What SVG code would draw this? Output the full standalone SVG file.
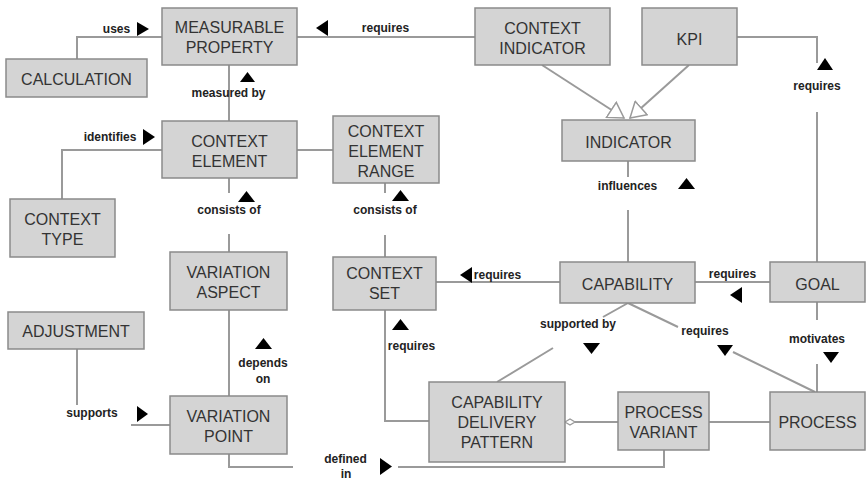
<svg xmlns="http://www.w3.org/2000/svg" width="866" height="482" viewBox="0 0 866 482">
<style>
.box{fill:#d4d4d4;stroke:#8a8a8a;stroke-width:1.5}
.t{font-family:"Liberation Sans",Arial,sans-serif;font-size:16px;fill:#333;text-anchor:middle}
.l{font-family:"Liberation Sans",Arial,sans-serif;font-size:12px;font-weight:bold;fill:#222;text-anchor:middle}
.c{fill:none;stroke:#9a9a9a;stroke-width:2}
.a{fill:#000}
</style>
<defs>
<marker id="gen" markerUnits="userSpaceOnUse" markerWidth="18" markerHeight="20" refX="15" refY="9" orient="auto" viewBox="-1 -1 18 20">
<path d="M0,0 L15,9 L0,18 z" fill="#fff" stroke="#9a9a9a" stroke-width="1.5"/>
</marker>
</defs>
<rect width="866" height="482" fill="#fff"/>
<g id="connectors">
<path class="c" d="M77,59 V37 H162"/>
<path class="c" d="M297,37 H475"/>
<path class="c" d="M229,65 V121"/>
<path class="c" d="M162,150 H62 V199"/>
<path class="c" d="M297,150 H333"/>
<path class="c" d="M229,178 V193 M229,234 V252"/>
<path class="c" d="M385,183 V193 M385,235 V257"/>
<path class="c" d="M628,161 V177 M628,210 V262"/>
<path class="c" d="M542,65 L624,118" marker-end="url(#gen)"/>
<path class="c" d="M689,65 L630,118" marker-end="url(#gen)"/>
<path class="c" d="M737,37 H817 V63 M817,112 V262"/>
<path class="c" d="M436,282 H560"/>
<path class="c" d="M695,282 H770"/>
<path class="c" d="M817,302 V320 M817,364 V392"/>
<path class="c" d="M628,303 L678,327 M733,352 L815,392"/>
<path class="c" d="M628,303 L603,317 M553,348 L497,382"/>
<path class="c" d="M385,310 V421 H429"/>
<path class="c" d="M575,422 H618"/>
<path d="M565,422 L570,419 L575,422 L570,425 z" fill="#fff" stroke="#9a9a9a" stroke-width="1.3"/>
<path class="c" d="M709,422 H770"/>
<path class="c" d="M229,310 V396"/>
<path class="c" d="M77,349 V405 M131,425 H170"/>
<path class="c" d="M229,454 V467 H293 M398,467 H664 V450"/>
<polygon class="a" points="137,22 149,29 137,36"/>
<polygon class="a" points="328,20 316,28 328,36"/>
<polygon class="a" points="240,82 247.5,72 255,82"/>
<polygon class="a" points="143,129 155,137 143,145"/>
<polygon class="a" points="238,202 246.5,191 255,202"/>
<polygon class="a" points="392,201 400.5,190 409,201"/>
<polygon class="a" points="678,189 686.5,178 695,189"/>
<polygon class="a" points="817,70 825,58 833,70"/>
<polygon class="a" points="472,267 460,275 472,283"/>
<polygon class="a" points="742,287 730,295 742,303"/>
<polygon class="a" points="583,343 600,343 591.5,354"/>
<polygon class="a" points="717,345 733,345 725,356"/>
<polygon class="a" points="823,352 839,352 831,363"/>
<polygon class="a" points="392,330 400.5,319 409,330"/>
<polygon class="a" points="255,349 263.5,338 272,349"/>
<polygon class="a" points="137,406 148,414 137,422"/>
<polygon class="a" points="380,458 392,466.5 380,475"/>
<text class="l" x="116.5" y="33">uses</text>
<text class="l" x="385.5" y="32">requires</text>
<text class="l" x="228.5" y="97">measured by</text>
<text class="l" x="110" y="141">identifies</text>
<text class="l" x="229" y="214">consists of</text>
<text class="l" x="385" y="214">consists of</text>
<text class="l" x="627.5" y="190">influences</text>
<text class="l" x="817" y="90">requires</text>
<text class="l" x="497.5" y="279">requires</text>
<text class="l" x="732.5" y="278">requires</text>
<text class="l" x="578" y="328">supported by</text>
<text class="l" x="705" y="335">requires</text>
<text class="l" x="817" y="343">motivates</text>
<text class="l" x="411.5" y="350">requires</text>
<text class="l" x="263" y="367">depends</text>
<text class="l" x="263" y="383">on</text>
<text class="l" x="92" y="417">supports</text>
<text class="l" x="345.5" y="463">defined</text>
<text class="l" x="346" y="478">in</text>
</g>
<g id="measurable-property"><rect class="box" x="162" y="8" width="135" height="57"/><text class="t" x="229.5" y="33">MEASURABLE</text><text class="t" x="229.5" y="53">PROPERTY</text></g>
<g id="calculation"><rect class="box" x="6" y="59" width="141" height="38"/><text class="t" x="76.5" y="85">CALCULATION</text></g>
<g id="context-indicator"><rect class="box" x="475" y="8" width="135" height="57"/><text class="t" x="542.5" y="34">CONTEXT</text><text class="t" x="542.5" y="54">INDICATOR</text></g>
<g id="kpi"><rect class="box" x="642" y="8" width="95" height="57"/><text class="t" x="689.5" y="45">KPI</text></g>
<g id="indicator"><rect class="box" x="562" y="120" width="133" height="41"/><text class="t" x="628.5" y="148">INDICATOR</text></g>
<g id="context-element"><rect class="box" x="162" y="121" width="135" height="57"/><text class="t" x="229.5" y="147">CONTEXT</text><text class="t" x="229.5" y="167">ELEMENT</text></g>
<g id="context-element-range"><rect class="box" x="333" y="116" width="106" height="67"/><text class="t" x="386" y="137">CONTEXT</text><text class="t" x="386" y="157">ELEMENT</text><text class="t" x="386" y="177">RANGE</text></g>
<g id="context-type"><rect class="box" x="10" y="199" width="105" height="58"/><text class="t" x="62.5" y="225">CONTEXT</text><text class="t" x="62.5" y="245">TYPE</text></g>
<g id="variation-aspect"><rect class="box" x="170" y="252" width="117" height="58"/><text class="t" x="228.5" y="278">VARIATION</text><text class="t" x="228.5" y="298">ASPECT</text></g>
<g id="context-set"><rect class="box" x="333" y="257" width="103" height="53"/><text class="t" x="384.5" y="279">CONTEXT</text><text class="t" x="384.5" y="299">SET</text></g>
<g id="capability"><rect class="box" x="560" y="262" width="135" height="41"/><text class="t" x="627.5" y="290">CAPABILITY</text></g>
<g id="goal"><rect class="box" x="770" y="262" width="95" height="40"/><text class="t" x="817.5" y="290">GOAL</text></g>
<g id="adjustment"><rect class="box" x="8" y="312" width="136" height="37"/><text class="t" x="76" y="337">ADJUSTMENT</text></g>
<g id="variation-point"><rect class="box" x="170" y="396" width="117" height="58"/><text class="t" x="228.5" y="422">VARIATION</text><text class="t" x="228.5" y="442">POINT</text></g>
<g id="capability-delivery-pattern"><rect class="box" x="429" y="382" width="136" height="80"/><text class="t" x="497" y="408">CAPABILITY</text><text class="t" x="497" y="428">DELIVERY</text><text class="t" x="497" y="448">PATTERN</text></g>
<g id="process-variant"><rect class="box" x="618" y="392" width="91" height="58"/><text class="t" x="663.5" y="418">PROCESS</text><text class="t" x="663.5" y="438">VARIANT</text></g>
<g id="process"><rect class="box" x="770" y="392" width="95" height="58"/><text class="t" x="817.5" y="428">PROCESS</text></g>
</svg>
